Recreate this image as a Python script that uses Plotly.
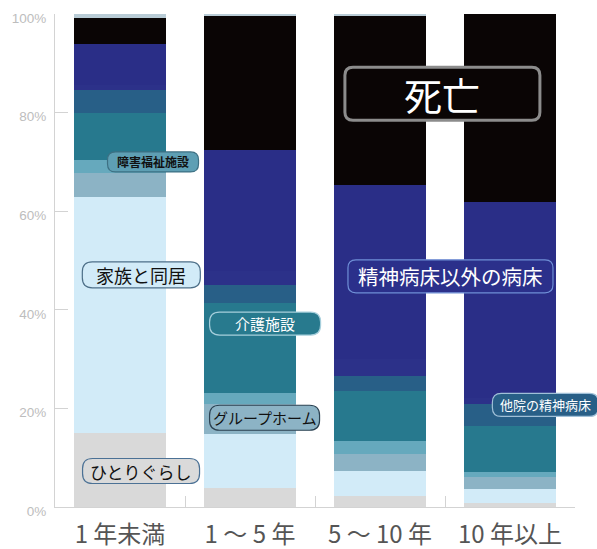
import plotly.graph_objects as go

# ---- data ----
categories = ["1 年未満", "1 ～ 5 年", "5 ～ 10 年", "10 年以上"]

hitori      = [15.1, 3.9, 2.2, 0.75]   # ひとりぐらし
kazoku      = [47.8, 11.0, 5.2, 2.85]  # 家族と同居
group_home  = [4.8, 5.9, 3.3, 2.5]     # グループホーム
shogai      = [2.6, 2.4, 2.7, 1.1]     # 障害福祉施設
kaigo       = [9.7, 18.1, 10.1, 9.3]   # 介護施設
tain        = [4.5, 3.8, 3.1, 4.4]     # 他院の精神病床
sonota_byo  = [1.0, 2.7, 3.5, 1.3]     # その他の病床
igai_byosho = [8.5, 24.7, 35.2, 39.6]  # 精神病床以外の病床
shibo       = [5.2, 27.2, 34.2, 38.2]  # 死亡
fumei       = [0.8, 0.3, 0.5, 0.0]     # 不明

series_names = ["ひとりぐらし", "家族と同居", "グループホーム", "障害福祉施設", "介護施設",
                "他院の精神病床", "その他の病床", "精神病床以外の病床", "死亡", "不明"]
series_values = [hitori, kazoku, group_home, shogai, kaigo, tain, sonota_byo,
                 igai_byosho, shibo, fumei]
series_colors = ["#d9d9d9", "#d2ebf8", "#8cb3c5", "#66a9bd", "#27798e",
                 "#285f87", "#2c3189", "#2a2e87", "#0a0505", "#b9ccd6"]

ytick_vals = [0, 20, 40, 60, 80, 100]
ytick_text = ["0%", "20%", "40%", "60%", "80%", "100%"]

FONT = "Noto Sans CJK JP"

fig = go.Figure()
for name, vals, col in zip(series_names, series_values, series_colors):
    fig.add_trace(go.Bar(x=categories, y=vals, name=name,
                         marker=dict(color=col, line=dict(width=0)),
                         hoverinfo="name+y"))

# ---- callout labels (style / placement, in plot-area fractions) ----
def rrect(w, h, r):
    a, b = w / 2, h / 2
    return (f"M {-a + r},{-b} L {a - r},{-b} Q {a},{-b} {a},{-b + r} "
            f"L {a},{b - r} Q {a},{b} {a - r},{b} L {-a + r},{b} "
            f"Q {-a},{b} {-a},{b - r} L {-a},{-b + r} Q {-a},{-b} {-a + r},{-b} Z")

labels = [
    # text, px, py, w, h, r, fill, line, lw, font color, size, weight
    ("障害福祉施設", 0.1885, 0.700, 91, 20, 8, "#5e9fb4", "#3d7083", 1.2, "#111111", 12, "bold"),
    ("家族と同居", 0.166, 0.471, 118, 26, 10, "#d2ebf8", "#4d6f88", 1.2, "#111111", 18, "normal"),
    ("ひとりぐらし", 0.1655, 0.073, 117, 25, 10, "#dadada", "#4b7195", 1.2, "#111111", 17, "normal"),
    ("介護施設", 0.404, 0.372, 111, 23, 10, "#287a8e", "#a6cfdc", 1.2, "#ffffff", 15, "normal"),
    ("グループホーム", 0.403, 0.181, 110, 25, 10, "#8cb3c5", "#2b4252", 1.2, "#111111", 15, "normal"),
    ("死亡", 0.745, 0.838, 195, 53, 8, "#0a0505", "#8c8c8c", 3, "#ffffff", 38, "normal"),
    ("精神病床以外の病床", 0.7605, 0.468, 205, 33, 8, "#2b308b", "#6f8fd6", 1.2, "#ffffff", 20.5, "normal"),
    ("他院の精神病床", 0.943, 0.207, 106, 23, 9, "#285f87", "#a0c0d8", 1.2, "#ffffff", 13, "normal"),
]

shapes = []
annotations = []
for text, x, y, w, h, r, fill, line, lw, fc, fs, fw in labels:
    shapes.append(dict(type="path", xref="paper", yref="paper", xsizemode="pixel", ysizemode="pixel",
                       xanchor=x, yanchor=y, path=rrect(w, h, r),
                       fillcolor=fill, line=dict(color=line, width=lw), layer="above"))
    annotations.append(dict(x=x, y=y, xref="paper", yref="paper", text=text, showarrow=False,
                            xanchor="center", yanchor="middle",
                            font=dict(family=FONT, size=fs, color=fc, weight=fw)))

fig.update_layout(
    width=597, height=549,
    autosize=False,
    barmode="stack", bargap=0.285,
    showlegend=False,
    plot_bgcolor="white", paper_bgcolor="white",
    margin=dict(l=54.5, r=22, t=13.5, b=42, pad=0, autoexpand=False),
    font=dict(family=FONT),
    shapes=shapes, annotations=annotations,
    xaxis=dict(range=[-0.5, 3.5], autorange=False,
               showline=True, linecolor="#d3d3d3", linewidth=1, automargin=False,
               ticks="inside", ticklen=11, tickcolor="#d3d3d3", tickson="boundaries",
               ticklabelstandoff=6,
               tickfont=dict(family=FONT, size=24, color="#555555"),
               showgrid=False, zeroline=False),
    yaxis=dict(range=[0, 100], autorange=False,
               showline=True, linecolor="#d3d3d3", linewidth=1, automargin=False,
               ticks="inside", ticklen=13, tickcolor="#d3d3d3",
               tickvals=ytick_vals, ticktext=ytick_text,
               ticklabelshift=4, ticklabelstandoff=5,
               tickfont=dict(family="Liberation Sans", size=13.5, color="#bdbdbd"),
               showgrid=False, zeroline=False),
)

fig.write_html("out.html", config={"responsive": False, "displayModeBar": False},
               post_script="document.body.style.margin='0';document.body.style.overflow='hidden';")
